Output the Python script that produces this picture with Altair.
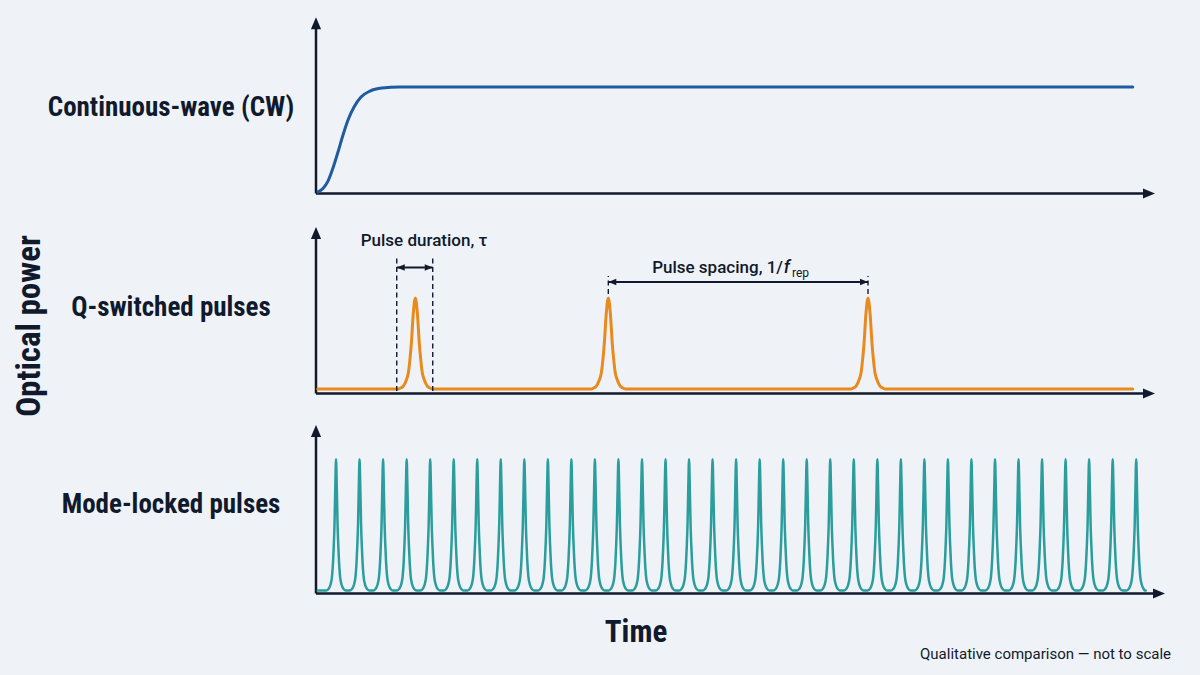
import altair as alt
import pandas as pd

# ---------------- data ----------------
PANEL_LABELS = ["Continuous-wave (CW)", "Q-switched pulses", "Mode-locked pulses"]
Y_TITLE = "Optical power"
X_TITLE = "Time"
FOOTNOTE = "Qualitative comparison — not to scale"

# continuous-wave turn-on curve (time in arbitrary units, power normalised)
CW_T = [0.024, 0.082, 0.141, 0.200, 0.259, 0.318, 0.377, 0.448, 0.530, 0.636, 0.777, 0.989, 9.62]
CW_P = [-0.019, 0.015, 0.087, 0.214, 0.369, 0.534, 0.680, 0.806, 0.903, 0.961, 0.990, 1.0, 1.0]

# Q-switched pulses: peak times, pulse profile (offset from peak, relative power)
Q_PEAKS_T = [1.170, 3.443, 6.502]
Q_RANGE_T = [0.02, 9.62]
Q_PROFILE_DT = [-0.200, -0.165, -0.141, -0.124, -0.102, -0.082, -0.062, -0.047, -0.024, 0.0,
                0.024, 0.047, 0.062, 0.082, 0.102, 0.124, 0.141, 0.165, 0.200]
Q_PROFILE_P = [0.0, 0.015, 0.033, 0.06, 0.11, 0.18, 0.34, 0.5, 0.83, 1.0,
               0.83, 0.5, 0.34, 0.18, 0.11, 0.06, 0.033, 0.015, 0.0]

# mode-locked pulse train
ML_PEAKS_T = [0.236, 0.513, 0.790, 1.068, 1.345, 1.622, 1.899, 2.176, 2.454, 2.731,
              3.008, 3.285, 3.562, 3.840, 4.117, 4.394, 4.671, 4.948, 5.226, 5.503,
              5.780, 6.057, 6.334, 6.612, 6.889, 7.166, 7.443, 7.720, 7.998, 8.275,
              8.552, 8.829, 9.106, 9.384, 9.661]
ML_RANGE_T = [0.02, 9.76]
ML_PROFILE_DT = [-0.112, -0.088, -0.065, -0.047, -0.035, -0.026, -0.018, -0.009, 0.0,
                 0.009, 0.018, 0.026, 0.035, 0.047, 0.065, 0.088, 0.112]
ML_PROFILE_P = [0.0, 0.012, 0.045, 0.11, 0.22, 0.35, 0.5, 0.78, 1.0,
                0.78, 0.5, 0.35, 0.22, 0.11, 0.045, 0.012, 0.0]

# annotations (Q-switched panel)
DUR_LABEL = "Pulse duration, τ"
DUR_MARKS_T = [0.951, 1.375]
SPC_LABEL = "Pulse spacing, 1/"
SPC_F = "f"
SPC_SUB = "rep"
SPC_MARKS_T = [3.443, 6.502]

# ---------------- layout / style ----------------
BG = "#eff3f8"
INK = "#111a2c"
COLORS = ["#1f5b9e", "#e88a1e", "#2a9d9c"]
LINE_W = [3, 3, 2.5]
LABEL_FONT = "Liberation Sans Narrow, Roboto Condensed, Roboto, sans-serif"
TEXT_FONT = "Roboto, Liberation Sans, sans-serif"

AX_MIN = [-0.034, -0.049, -0.023]      # axis line value of each panel
AX_TIP = [1.677, 1.780, 1.260]         # y-arrow tip value
AX_PX = [193.5, 393.5, 593.5]          # pixel of axis line
TIP_PX = [17.3, 227.0, 425.0]          # pixel of arrow tip
X_TIP = [9.882, 9.882, 10.0]
X_PPU = 84.9

XS = alt.Scale(domain=[0, 10], nice=False, zero=False)


def ysc(p):
    return alt.Scale(domain=[AX_MIN[p], AX_TIP[p]], range=[AX_PX[p], TIP_PX[p]],
                     nice=False, zero=False)


def X(f):
    return alt.X(f"{f}:Q", scale=XS, axis=None)


def Y(f, p):
    return alt.Y(f"{f}:Q", scale=ysc(p), axis=None)


def ppu(p):
    return (AX_PX[p] - TIP_PX[p]) / (AX_TIP[p] - AX_MIN[p])


UP = "M0,0L-0.85,2L0.85,2Z"
RIGHT = "M0,0L-2,-0.85L-2,0.85Z"
LEFT_S = "M0,0L2,-0.8L2,0.8Z"
RIGHT_S = "M0,0L-2,-0.8L-2,0.8Z"

layers = []

# axes with arrow heads
for p in range(3):
    ax = pd.DataFrame({"x0": [0.0], "x1": [X_TIP[p] - 8 / X_PPU], "y0": [AX_MIN[p]],
                       "y1": [AX_TIP[p] - 8 / ppu(p)], "xt": [X_TIP[p]], "yt": [AX_TIP[p]]})
    base = alt.Chart(ax)
    layers.append(base.mark_rule(color=INK, strokeWidth=2.5).encode(
        x=X("x0"), x2="x1", y=Y("y0", p)))
    layers.append(base.mark_rule(color=INK, strokeWidth=2.5).encode(
        x=X("x0"), y=Y("y0", p), y2="y1"))
    layers.append(base.mark_point(shape=UP, size=144, filled=True, opacity=1,
                                  color=INK, strokeWidth=0).encode(
        x=X("x0"), y=Y("yt", p)))
    layers.append(base.mark_point(shape=RIGHT, size=144, filled=True, opacity=1,
                                  color=INK, strokeWidth=0).encode(
        x=X("xt"), y=Y("y0", p)))


def pulse_table(peaks, rng, dts, ps):
    rows = [(rng[0], 0.0)]
    for t0 in peaks:
        for dt, v in zip(dts, ps):
            rows.append((t0 + dt, v))
    rows.append((rng[1], 0.0))
    return pd.DataFrame(rows, columns=["t", "p"])


cw = pd.DataFrame({"t": CW_T, "p": CW_P})
qs = pulse_table(Q_PEAKS_T, Q_RANGE_T, Q_PROFILE_DT, Q_PROFILE_P)
ml = pulse_table(ML_PEAKS_T, ML_RANGE_T, ML_PROFILE_DT, ML_PROFILE_P)

for p, df in enumerate([cw, qs, ml]):
    layers.append(alt.Chart(df).mark_line(interpolate="monotone", color=COLORS[p],
                                          strokeWidth=LINE_W[p], strokeCap="round").encode(
        x=X("t"), y=Y("p", p)))

# ---- annotations in Q-switched panel (panel index 1) ----
P = 1
dur_dash = pd.DataFrame({"t": DUR_MARKS_T, "y0": [-0.022, -0.022], "y1": [1.451, 1.451]})
layers.append(alt.Chart(dur_dash).mark_rule(color=INK, strokeWidth=1.4, strokeDash=[5, 3.5]).encode(
    x=X("t"), y=Y("y0", P), y2="y1"))
spc_dash = pd.DataFrame({"t": SPC_MARKS_T, "y0": [1.044, 1.044], "y1": [1.242, 1.242]})
layers.append(alt.Chart(spc_dash).mark_rule(color=INK, strokeWidth=1.4, strokeDash=[5, 3.5]).encode(
    x=X("t"), y=Y("y0", P), y2="y1"))

arrows = pd.DataFrame({"t0": [DUR_MARKS_T[0], SPC_MARKS_T[0]],
                       "t1": [DUR_MARKS_T[1], SPC_MARKS_T[1]],
                       "y": [1.335, 1.176]})
layers.append(alt.Chart(arrows).mark_rule(color=INK, strokeWidth=1.8).encode(
    x=X("t0"), x2="t1", y=Y("y", P)))
layers.append(alt.Chart(arrows).mark_point(shape=LEFT_S, size=64, filled=True, opacity=1,
                                           color=INK, strokeWidth=0).encode(
    x=X("t0"), y=Y("y", P)))
layers.append(alt.Chart(arrows).mark_point(shape=RIGHT_S, size=64, filled=True,
                                           opacity=1, color=INK, strokeWidth=0).encode(
    x=X("t1"), y=Y("y", P)))

ann = pd.DataFrame({"t": [1.272], "y": [1.566], "txt": [DUR_LABEL]})
layers.append(alt.Chart(ann).mark_text(font=TEXT_FONT, fontSize=17, fontWeight=500, color=INK,
                                       align="center", baseline="alphabetic").encode(
    x=X("t"), y=Y("y", P), text="txt:N"))
ann2 = pd.DataFrame({"t": [5.50], "y": [1.275], "txt": [SPC_LABEL]})
layers.append(alt.Chart(ann2).mark_text(font=TEXT_FONT, fontSize=17, fontWeight=500, color=INK,
                                        align="right", baseline="alphabetic").encode(
    x=X("t"), y=Y("y", P), text="txt:N"))
ann3 = pd.DataFrame({"t": [5.51], "y": [1.275], "txt": [SPC_F]})
layers.append(alt.Chart(ann3).mark_text(font=TEXT_FONT, fontSize=18, fontStyle="italic",
                                        fontWeight=500, color=INK, align="left",
                                        baseline="alphabetic").encode(
    x=X("t"), y=Y("y", P), text="txt:N"))
ann4 = pd.DataFrame({"t": [5.607], "y": [1.231], "txt": [SPC_SUB]})
layers.append(alt.Chart(ann4).mark_text(font=TEXT_FONT, fontSize=12, color=INK, align="left",
                                        baseline="alphabetic").encode(
    x=X("t"), y=Y("y", P), text="txt:N"))

# ---- panel labels and titles (positions in pixels relative to plot origin) ----
LABEL_Y_PX = [108, 308, 505]
for i, txt in enumerate(PANEL_LABELS):
    layers.append(alt.Chart(pd.DataFrame({"txt": [txt]})).mark_text(
        font=LABEL_FONT, fontSize=27, fontWeight="bold", color=INK, align="center",
        baseline="middle").encode(x=alt.value(171 - 316), y=alt.value(LABEL_Y_PX[i]),
                                  text="txt:N"))

layers.append(alt.Chart(pd.DataFrame({"txt": [Y_TITLE]})).mark_text(
    font=LABEL_FONT, fontSize=33, fontWeight="bold", color=INK, align="center",
    baseline="middle", angle=270).encode(x=alt.value(30 - 316), y=alt.value(326), text="txt:N"))
layers.append(alt.Chart(pd.DataFrame({"txt": [X_TITLE]})).mark_text(
    font=LABEL_FONT, fontSize=31, fontWeight="bold", color=INK, align="center",
    baseline="alphabetic").encode(x=alt.value(636 - 316), y=alt.value(642), text="txt:N"))
layers.append(alt.Chart(pd.DataFrame({"txt": [FOOTNOTE]})).mark_text(
    font=TEXT_FONT, fontSize=15, color=INK, align="right",
    baseline="alphabetic").encode(x=alt.value(1171 - 316), y=alt.value(659), text="txt:N"))

chart = alt.layer(*layers).resolve_scale(y="independent").properties(
    width=849, height=675,
    autosize=alt.AutoSizeParams(type="none"),
    padding={"left": 316, "right": 35, "top": 0, "bottom": 0},
    background=BG,
).configure_view(stroke=None)

chart.save("out.html", embed_options={"renderer": "svg", "actions": False})
